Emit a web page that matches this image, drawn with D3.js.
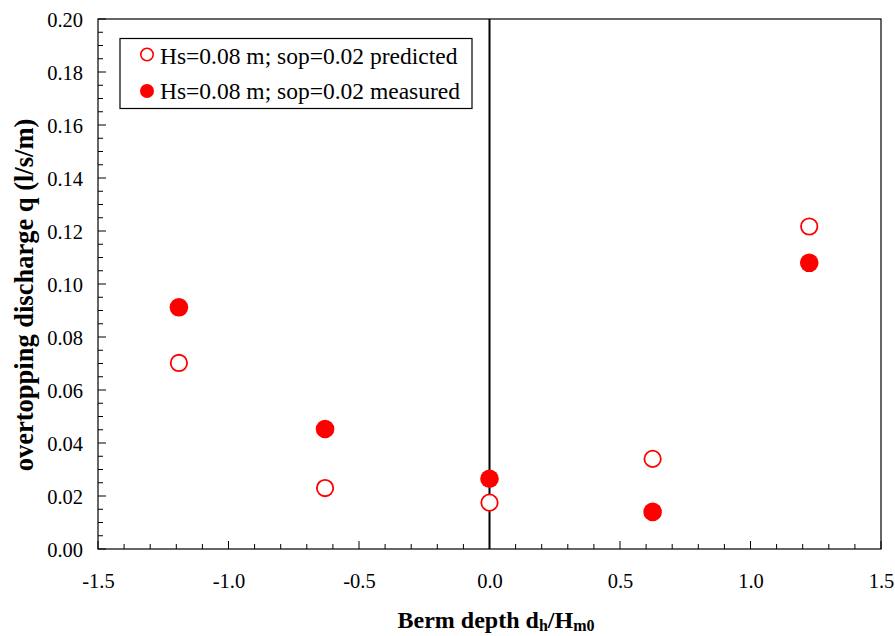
<!DOCTYPE html>
<html>
<head>
<meta charset="utf-8">
<script src="https://cdn.jsdelivr.net/npm/d3@7"></script>
<style>
  body { margin: 0; background: #fff; }
  text { font-family: "Liberation Serif", "Times New Roman", serif; }
</style>
</head>
<body>
<div id="chart"></div>
<script>

//--- Daten ------------------------------------------------------------------------------------------------ //

var bermDepth = [-1.19, -0.63, 0.0, 0.625, 1.225];
var predicted = [0.0702, 0.0230, 0.0175, 0.0340, 0.1217];
var measured = [0.0912, 0.0453, 0.0265, 0.0140, 0.1080];
var seriesNames = ['Hs=0.08 m; sop=0.02 predicted', 'Hs=0.08 m; sop=0.02 measured'];
var xTicks = [-1.5, -1.0, -0.5, 0.0, 0.5, 1.0, 1.5];
var yTicks = [0, 0.02, 0.04, 0.06, 0.08, 0.10, 0.12, 0.14, 0.16, 0.18, 0.20];


//--- SVG -------------------------------------------------------------------------------------------------- //

var width = 895, height = 636;
var margin = {left: 98, right: 14, top: 19, bottom: 87};
var serif = '"Liberation Serif", "Times New Roman", serif';

var svg = d3.select('#chart').append('svg')
    .attr('width', width)
    .attr('height', height)
    .attr('font-family', serif);

var x = d3.scaleLinear().domain([-1.5, 1.5]).range([margin.left, width - margin.right]);
var y = d3.scaleLinear().domain([0, 0.20]).range([height - margin.bottom, margin.top]);

// minor ticks
var xMinor = d3.range(-15, 16).map(function (d) { return d / 10; });
var yMinor = d3.range(0, 41).map(function (d) { return d * 0.005; });

svg.append('g')
    .selectAll('line.xm')
    .data(xMinor)
    .enter().append('line')
    .attr('x1', function (d) { return x(d); })
    .attr('x2', function (d) { return x(d); })
    .attr('y1', y(0))
    .attr('y2', function (d, i) { return y(0) - (i % 5 == 0 ? 8 : 5); })
    .attr('stroke', '#000');

svg.append('g')
    .selectAll('line.ym')
    .data(yMinor)
    .enter().append('line')
    .attr('y1', function (d) { return y(d); })
    .attr('y2', function (d) { return y(d); })
    .attr('x1', x(-1.5))
    .attr('x2', function (d, i) { return x(-1.5) + (i % 4 == 0 ? 8 : 5); })
    .attr('stroke', '#000');

// axes (labels only)
var fmtX = d3.format('.1f'), fmtY = d3.format('.2f');

var xAxis = svg.append('g')
    .attr('transform', 'translate(0,' + y(0) + ')')
    .call(d3.axisBottom(x).tickValues(xTicks)
        .tickFormat(function (d) { return fmtX(d).replace('\u2212', '-'); })
        .tickSize(0).tickPadding(24));

var yAxis = svg.append('g')
    .attr('transform', 'translate(' + x(-1.5) + ',0)')
    .call(d3.axisLeft(y).tickValues(yTicks).tickFormat(fmtY).tickSize(0).tickPadding(15));

[xAxis, yAxis].forEach(function (a) {
    a.attr('font-family', serif);
    a.select('.domain').remove();
    a.selectAll('text')
        .attr('font-size', 20.5)
        .attr('fill', '#000');
});
yAxis.selectAll('text').attr('dy', '0.35em');

// plot frame
svg.append('rect')
    .attr('x', x(-1.5))
    .attr('y', y(0.2))
    .attr('width', x(1.5) - x(-1.5))
    .attr('height', y(0) - y(0.2))
    .attr('fill', 'none')
    .attr('stroke', '#000')
    .attr('stroke-width', 1.2);

// zero line
svg.append('line')
    .attr('x1', x(0)).attr('x2', x(0))
    .attr('y1', y(0)).attr('y2', y(0.2))
    .attr('stroke', '#000')
    .attr('stroke-width', 2);


//--- Punkte ----------------------------------------------------------------------------------------------- //

svg.append('g')
    .selectAll('circle')
    .data(bermDepth)
    .enter().append('circle')
    .attr('cx', function (d) { return x(d); })
    .attr('cy', function (d, i) { return y(predicted[i]); })
    .attr('r', 8.2)
    .attr('fill', '#fff')
    .attr('stroke', '#ff0000')
    .attr('stroke-width', 1.8);

svg.append('g')
    .selectAll('circle')
    .data(bermDepth)
    .enter().append('circle')
    .attr('cx', function (d) { return x(d); })
    .attr('cy', function (d, i) { return y(measured[i]); })
    .attr('r', 9.3)
    .attr('fill', '#ff0000');


//--- Legende ---------------------------------------------------------------------------------------------- //

var legend = svg.append('g');

legend.append('rect')
    .attr('x', 120).attr('y', 38.5)
    .attr('width', 352).attr('height', 70)
    .attr('fill', '#fff')
    .attr('stroke', '#000')
    .attr('stroke-width', 1.2);

legend.append('circle')
    .attr('cx', 147).attr('cy', 54.5).attr('r', 6.2)
    .attr('fill', '#fff').attr('stroke', '#ff0000').attr('stroke-width', 1.6);

legend.append('circle')
    .attr('cx', 147).attr('cy', 91).attr('r', 7)
    .attr('fill', '#ff0000');

legend.selectAll('text')
    .data(seriesNames)
    .enter().append('text')
    .attr('x', 160)
    .attr('y', function (d, i) { return 64 + i * 35; })
    .attr('font-size', 23.5)
    .text(function (d) { return d; });


//--- Achsentitel ------------------------------------------------------------------------------------------ //

var xTitle = svg.append('text')
    .attr('x', 496)
    .attr('y', 628)
    .attr('text-anchor', 'middle')
    .attr('font-size', 24)
    .attr('font-weight', 'bold');
xTitle.append('tspan').text('Berm depth d');
xTitle.append('tspan').attr('font-size', 16).attr('dy', 3).text('h');
xTitle.append('tspan').attr('dy', -3).text('/H');
xTitle.append('tspan').attr('font-size', 16).attr('dy', 3).text('m0');

svg.append('text')
    .attr('transform', 'translate(33,295) rotate(-90)')
    .attr('text-anchor', 'middle')
    .attr('font-size', 26.5)
    .attr('font-weight', 'bold')
    .text('overtopping discharge q (l/s/m)');

</script>
</body>
</html>
